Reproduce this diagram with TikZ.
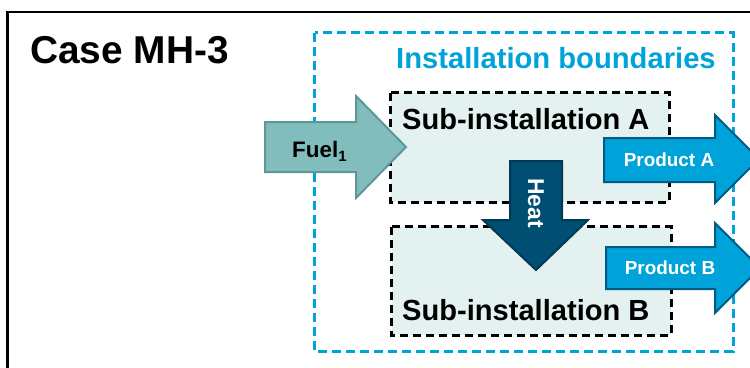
\documentclass[tikz,border=0pt]{standalone}
\usepackage{fontspec}
\setmainfont{Liberation Sans}
\definecolor{bnd}{HTML}{00A3D9}
\definecolor{subfill}{HTML}{E3F1F0}
\definecolor{fuelfill}{HTML}{80BDBC}
\definecolor{fueledge}{HTML}{5E9896}
\definecolor{prodfill}{HTML}{00A3D9}
\definecolor{prodedge}{HTML}{005B85}
\definecolor{heatfill}{HTML}{004F72}
\definecolor{heatedge}{HTML}{003A55}
\begin{document}
\begin{tikzpicture}[x=1bp,y=-1bp,
  boundline/.style={draw=bnd,line width=3bp,dash pattern=on 9bp off 5bp},
  subline/.style={draw=black,line width=3bp,dash pattern=on 8bp off 5bp},
  area/.style={minimum width=278bp,minimum height=109bp,inner sep=0},
  fuelarrow/.style={fill=fuelfill,draw=fueledge,line width=2bp,line join=miter},
  prodarrow/.style={fill=prodfill,draw=prodedge,line width=2bp,line join=miter},
  heatarrow/.style={fill=heatfill,draw=heatedge,line width=2bp,line join=miter},
  lbl/.style={inner sep=0,font=\bfseries}
]
\useasboundingbox (0,0) rectangle (750,367);
\clip (0,0) rectangle (750,367);
% outer frame
\coordinate (fbl) at (7.5,380);
\coordinate (ftl) at (7.5,12);
\coordinate (ftr) at (760,12);
\draw[line width=2.7bp] (fbl) -- (ftl) -- (ftr);
% title
\node[lbl,anchor=base west,font=\bfseries\fontsize{39}{39}\selectfont] (title) at (30,63) {Case MH-3};
% installation boundary
\node[area,minimum width=418bp,minimum height=318bp] (bound) at (524,192) {};
\draw[boundline] (bound.north west) rectangle (bound.south east);
\node[lbl,anchor=base west,text=bnd,font=\bfseries\fontsize{29.3}{29.3}\selectfont] (boundlbl) at (396,68) {Installation boundaries};
% sub-installations
\node[area,fill=subfill] (subA) at (530,147.5) {};
\draw[subline] (subA.north west) rectangle (subA.south east);
\node[area,fill=subfill,minimum width=279bp,minimum height=108bp] (subB) at (531.5,281) {};
\draw[subline] (subB.north west) rectangle (subB.south east);
\node[lbl,anchor=base west,font=\bfseries\fontsize{29.2}{29.2}\selectfont] (subAlbl) at (402,129) {Sub-installation A};
\node[lbl,anchor=base west,font=\bfseries\fontsize{29.2}{29.2}\selectfont] (subBlbl) at (402,320) {Sub-installation B};
% fuel arrow
\path[fuelarrow] (265,122) -- (356,122) -- (356,96) -- (406,147) -- (356,198) -- (356,172) -- (265,172) -- cycle;
\node[lbl,anchor=base west,font=\bfseries\fontsize{22.5}{22.5}\selectfont] (fuel) at (292,157) {Fuel\raisebox{-4bp}{\fontsize{15}{15}\selectfont 1}};
% heat arrow
\path[heatarrow] (510,161) -- (562,161) -- (562,220) -- (588,220) -- (536,270) -- (483,220) -- (510,220) -- cycle;
\node[lbl,text=white,rotate=-90,font=\bfseries\fontsize{23}{23}\selectfont] (heat) at (536,203) {Heat};
% product arrows
\path[prodarrow] (604,138) -- (715,138) -- (715,115) -- (759,159) -- (715,203) -- (715,182) -- (604,182) -- cycle;
\node[lbl,text=white,font=\bfseries\fontsize{19}{19}\selectfont] (prodA) at (669,160) {Product A};
\path[prodarrow] (606,247) -- (715,247) -- (715,223) -- (760,268) -- (715,313) -- (715,289) -- (606,289) -- cycle;
\node[lbl,text=white,font=\bfseries\fontsize{19}{19}\selectfont] (prodB) at (670,268) {Product B};
\end{tikzpicture}
\end{document}
